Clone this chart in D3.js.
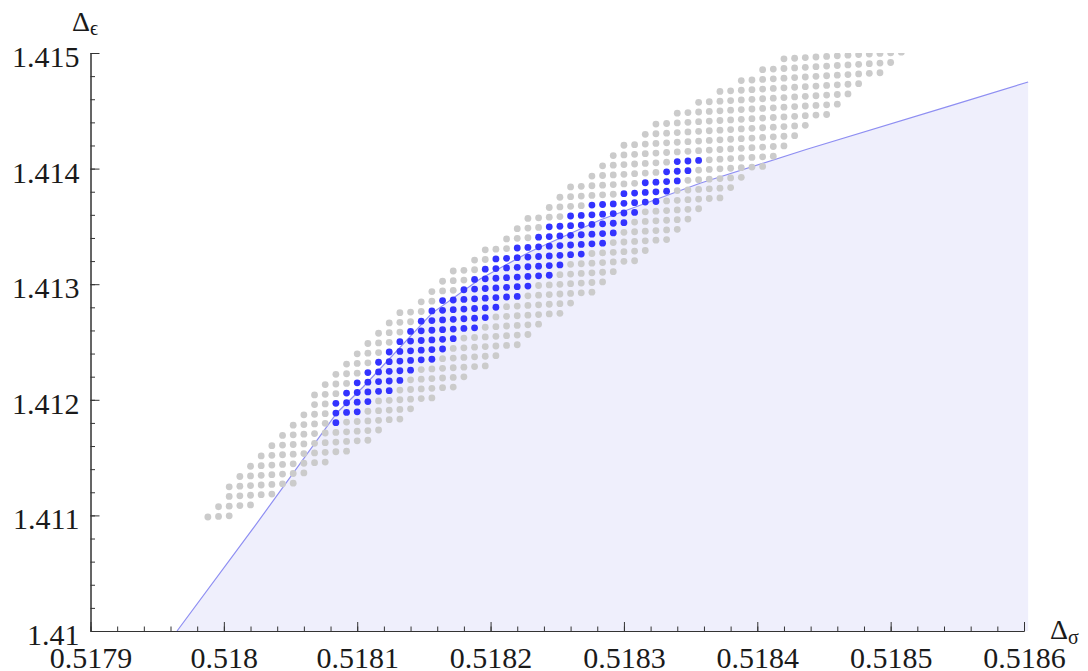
<!DOCTYPE html>
<html>
<head>
<meta charset="utf-8">
<script src="https://cdn.jsdelivr.net/npm/d3@7"></script>
<style>
body { margin: 0; background: #fff; }
text { font-family: "Liberation Serif", "DejaVu Serif", serif; fill: #1a1a1a; }
</style>
</head>
<body>
<div id="chart"></div>
<script>
// scan grid: one column per Δσ value, rows in Δε (rows are slightly sheared)
const sigmaStart = 0.517988, sigmaStep = 0.000008;
const epsStart = 1.410986, epsStep = 0.0000837, epsShear = 0.0000052;

// lowest / highest row index of the grey points, per column
const grayLo = [0,0,0,1,1,2,2,3,3,4,5,5,6,6,7,7,8,9,9,10,11,11,12,12,13,14,14,15,16,16,17,18,19,19,20,21,21,22,23,24,24,25,26,26,27,28,29,30,30,31,32,33,33,34,35,36,37,38,38,39,40,41,42,42,43,44];
const grayHi = [0,1,3,4,5,6,7,8,9,10,12,13,14,15,16,17,18,19,20,20,21,22,23,24,24,25,26,26,27,28,29,29,30,31,32,32,33,34,35,36,36,37,38,38,39,39,40,40,41,41,42,42,43,43,44,45,45,45,45,45,45,45,45,45,45,45];

// blue (allowed) points, columns 12..46
const blueFirstCol = 12;
const blueLo = [9,10,10,11,12,12,13,14,15,15,16,17,18,18,19,20,21,21,22,23,23,24,25,25,26,26,27,28,29,30,30,31,32,33,34];
const blueHi = [11,12,13,14,15,16,17,18,19,20,21,21,22,23,24,25,25,26,26,27,28,28,29,29,30,30,30,31,31,32,32,33,34,34,34];

// boundary of the shaded region
const boundarySigma = [0.5179649, 0.5180211, 0.5180847, 0.5181044, 0.5181559, 0.5181921, 0.5182296, 0.5182821, 0.5183571, 0.5184372, 0.5185446, 0.5186031];
const boundaryEps = [1.41, 1.410874, 1.411886, 1.412111, 1.412748, 1.413045, 1.413281, 1.413555, 1.413873, 1.414167, 1.414542, 1.414749];

const xTicks = [0.5179, 0.518, 0.5181, 0.5182, 0.5183, 0.5184, 0.5185, 0.5186];
const yTicks = [1.41, 1.411, 1.412, 1.413, 1.414, 1.415];

const width = 1088, height = 671;
const font = '"Liberation Serif", "DejaVu Serif", serif';

const svg = d3.select("#chart")
    .append("svg")
    .attr("width", width)
    .attr("height", height);

const x = d3.scaleLinear().domain([0.5179, 0.5186]).range([90.5, 1024]);
const y = d3.scaleLinear().domain([1.41, 1.415]).range([631, 53]);
const xEnd = 0.5186031;

svg.append("clipPath")
    .attr("id", "plotclip")
    .append("rect")
    .attr("x", x(0.5179))
    .attr("y", y(1.415))
    .attr("width", x(xEnd) - x(0.5179))
    .attr("height", y(1.41) - y(1.415));

// Shaded region under the boundary
const boundary = boundarySigma.map((s, i) => [s, boundaryEps[i]]);
const line = d3.line().x(d => x(d[0])).y(d => y(d[1]));

svg.append("path")
    .datum(boundary.concat([[xEnd, 1.41]]))
    .attr("d", line)
    .attr("fill", "#efeffc")
    .attr("stroke", "none");

svg.append("path")
    .datum(boundary)
    .attr("d", line)
    .attr("fill", "none")
    .attr("stroke", "#8e8ef2")
    .attr("stroke-width", 1.2);

// Build the points from the grid columns
const points = [];
grayLo.forEach((lo, k) => {
    const b = k - blueFirstCol;
    for (let j = lo; j <= grayHi[k]; j++) {
        const isBlue = b >= 0 && b < blueLo.length && j >= blueLo[b] && j <= blueHi[b];
        points.push({
            sigma: sigmaStart + k * sigmaStep,
            eps: epsStart + j * epsStep + k * epsShear,
            blue: isBlue
        });
    }
});

svg.append("g")
    .attr("clip-path", "url(#plotclip)")
    .selectAll("circle")
    .data(points)
    .enter()
    .append("circle")
    .attr("cx", d => x(d.sigma))
    .attr("cy", d => y(d.eps))
    .attr("r", 3.4)
    .attr("fill", d => d.blue ? "#3333ff" : "#cbcbcb");

// Axes, ticks point inward
const axisColor = "#333";

const xAxis = svg.append("g").attr("transform", "translate(0," + y(1.41) + ")");
xAxis.append("g")
    .call(d3.axisBottom(x).tickValues(x.ticks(35)).tickSize(-4.5).tickSizeOuter(0).tickFormat(""));
xAxis.append("g")
    .call(d3.axisBottom(x).tickValues(xTicks).tickSize(-9).tickSizeOuter(0).tickPadding(16).tickFormat(d => String(d)));

const yAxis = svg.append("g").attr("transform", "translate(" + x(0.5179) + ",0)");
yAxis.append("g")
    .call(d3.axisLeft(y).tickValues(y.ticks(25)).tickSize(-4.5).tickSizeOuter(0).tickFormat(""));
yAxis.append("g")
    .call(d3.axisLeft(y).tickValues(yTicks).tickSize(-9).tickSizeOuter(0).tickPadding(11).tickFormat(d => String(d)))
    .selectAll("text").attr("dy", "0.45em");

svg.selectAll(".domain, .tick line").attr("stroke", axisColor).attr("stroke-width", 1);
svg.selectAll(".tick text")
    .attr("font-family", font)
    .style("font-family", font)
    .style("font-size", "30px")
    .attr("fill", "#1a1a1a");

// Axis labels
const yLabel = svg.append("text").attr("x", 72).attr("y", 31).style("font-size", "28px");
yLabel.append("tspan").text("Δ");
yLabel.append("tspan").attr("dy", 4).style("font-size", "20px").text("ϵ");

const xLabel = svg.append("text").attr("x", 1050).attr("y", 639).style("font-size", "28px");
xLabel.append("tspan").text("Δ");
xLabel.append("tspan").attr("dy", 5).style("font-size", "20px").text("σ");
</script>
</body>
</html>
